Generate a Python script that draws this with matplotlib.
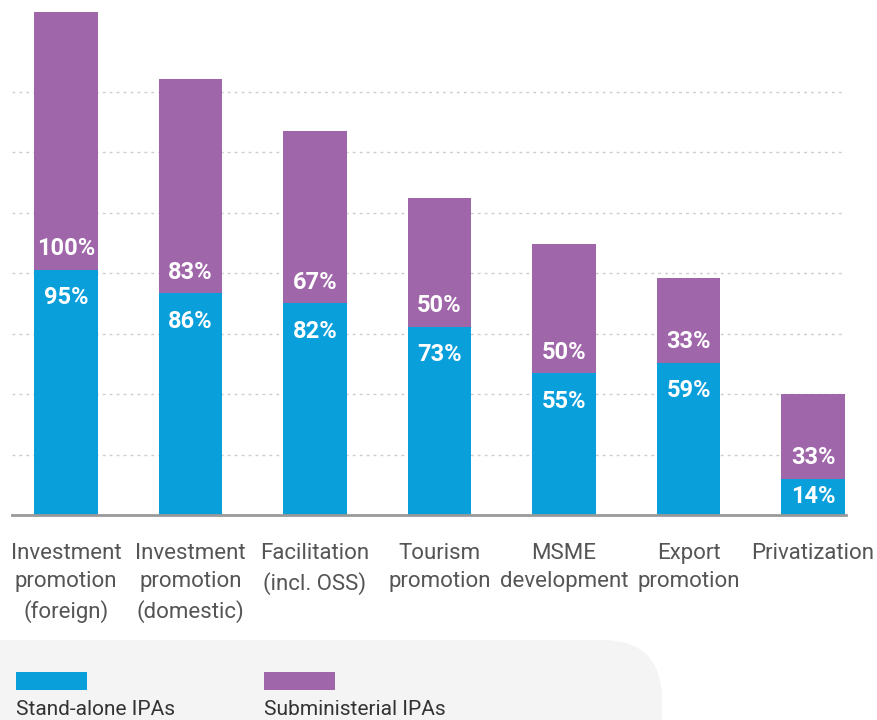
import matplotlib.pyplot as plt
import numpy as np
from matplotlib.patches import FancyBboxPatch, Rectangle

categories = ["Investment\npromotion\n(foreign)", "Investment\npromotion\n(domestic)",
              "Facilitation\n(incl. OSS)", "Tourism\npromotion", "MSME\ndevelopment",
              "Export\npromotion", "Privatization"]
standalone = [95, 86, 82, 73, 55, 59, 14]
subministerial = [100, 83, 67, 50, 50, 33, 33]

blue = '#089fdb'
purple = '#a066aa'

plt.rcParams['font.family'] = ['Roboto', 'DejaVu Sans']

fig = plt.figure(figsize=(8.78, 7.2), dpi=100)

# background layer in pixel coordinates for the legend panel
bg = fig.add_axes([0, 0, 1, 1], zorder=0)
bg.set_xlim(0, 878)
bg.set_ylim(720, 0)
bg.axis('off')
bg.add_patch(FancyBboxPatch((-80, 640), 742, 200, boxstyle="round,pad=0,rounding_size=60",
                            fc='#f3f4f3', ec='none'))
bg.add_patch(Rectangle((16, 672), 71, 18, fc=blue, ec='none'))
bg.add_patch(Rectangle((264, 672), 71, 18, fc=purple, ec='none'))
bg.text(16, 700, 'Stand-alone IPAs', fontsize=15, color='#333333', va='top', ha='left')
bg.text(264, 700, 'Subministerial IPAs', fontsize=15, color='#333333', va='top', ha='left')

scale = 2.58  # pixels per percentage point
ax = fig.add_axes([12/878, 205/720, 834/878, 515/720], zorder=1)
ax.patch.set_alpha(0)

x = np.arange(len(categories))
ax.bar(x, standalone, width=0.51, color=blue, zorder=2)
ax.bar(x, subministerial, width=0.51, bottom=standalone, color=purple, zorder=2)

for i in range(len(categories)):
    yb = max(standalone[i] - 28 / scale, standalone[i] / 2)
    ax.text(x[i], yb, f'{standalone[i]}%', ha='center', va='center',
            color='white', fontsize=17, fontweight='bold', zorder=3)
    ax.text(x[i], standalone[i] + 21 / scale, f'{subministerial[i]}%', ha='center', va='center',
            color='white', fontsize=17, fontweight='bold', zorder=3)

ax.set_xlim(-0.434, 6.265)
ax.set_ylim(0, 515 / scale)
ax.set_yticks(np.arange(1, 8) * 60.5 / scale)
ax.yaxis.grid(True, color='#cccccc', linestyle=(0, (2, 3)), linewidth=1, zorder=0)
ax.tick_params(axis='y', left=False, labelleft=False)
ax.set_xticks(x)
ax.set_xticklabels(categories, fontsize=16, color='#555555', linespacing=1.45)
ax.tick_params(axis='x', length=0, pad=20)
for s in ['top', 'right', 'left']:
    ax.spines[s].set_visible(False)
ax.spines['bottom'].set_color('#999999')
ax.spines['bottom'].set_linewidth(2)
ax.spines['bottom'].set_zorder(4)

fig.savefig('out.png', dpi=100)
